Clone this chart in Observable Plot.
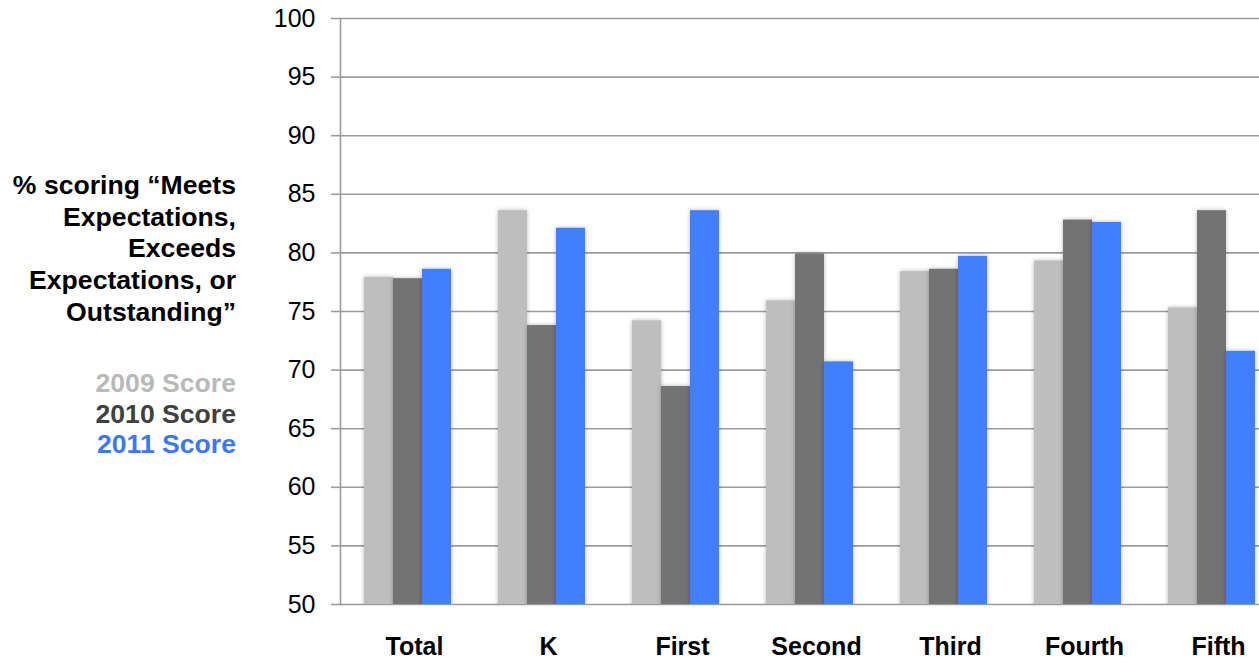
<!DOCTYPE html>
<html>
<head>
<meta charset="utf-8">
<script src="https://cdn.jsdelivr.net/npm/d3@7"></script>
<script src="https://cdn.jsdelivr.net/npm/@observablehq/plot@0.6"></script>
<style>
  html, body { margin: 0; padding: 0; background: #fff; }
  #wrap { position: relative; width: 1259px; height: 663px; overflow: hidden; font-family: "Liberation Sans", Arial, sans-serif; }
  #chart { position: absolute; left: 0; top: 0; }
  #title { position: absolute; right: calc(1259px - 236px); top: 170px; text-align: right; font-weight: bold; font-size: 26.6px; line-height: 31.7px; color: #000; white-space: nowrap; }
  #legend { position: absolute; right: calc(1259px - 236px); top: 368px; text-align: right; font-weight: bold; font-size: 26.6px; line-height: 30.7px; white-space: nowrap; }
  .bars rect { filter: drop-shadow(0px 0px 2px rgba(0,0,0,0.28)); }
</style>
</head>
<body>
<div id="wrap">
  <div id="chart"></div>
  <div id="title"></div>
  <div id="legend"></div>
</div>
<script>
const categories = ["Total", "K", "First", "Second", "Third", "Fourth", "Fifth"];
const years = ["2009 Score", "2010 Score", "2011 Score"];
const scores2009 = [77.9, 83.6, 74.2, 75.9, 78.4, 79.3, 75.3];
const scores2010 = [77.8, 73.8, 68.6, 79.9, 78.6, 82.8, 83.6];
const scores2011 = [78.6, 82.1, 83.6, 70.7, 79.7, 82.6, 71.6];
const yTicks = [50, 55, 60, 65, 70, 75, 80, 85, 90, 95, 100];
const titleLines = ["% scoring \u201cMeets", "Expectations,", "Exceeds", "Expectations, or", "Outstanding\u201d"];
const colors = ["#bebebe", "#737373", "#4080ff"];
const legendColors = ["#b9b9b9", "#404040", "#3a78f5"];

const series = [scores2009, scores2010, scores2011];
const data = [];
categories.forEach((c, i) => years.forEach((y, j) => data.push({category: c, year: y, value: series[j][i]})));

const plot = Plot.plot({
  width: 1259,
  height: 663,
  marginTop: 18,
  marginBottom: 59,
  marginLeft: 340,
  marginRight: 0,
  style: {overflow: "hidden", background: "white"},
  fx: {domain: categories, range: [340, 1278], padding: 0, axis: null},
  x: {domain: years, paddingInner: 0, paddingOuter: 0.758, axis: null},
  y: {domain: [50, 100], axis: null},
  color: {domain: years, range: colors},
  marks: [
    Plot.ruleY(yTicks, {stroke: "#9c9c9c", strokeWidth: 1.6}),
    Plot.barY(data, {fx: "category", x: "year", y: "value", fill: "year", clip: true, className: "bars"}),
    Plot.axisY(yTicks, {anchor: "left", tickSize: 9, tickPadding: 16, stroke: "#9c9c9c", strokeWidth: 1.6, fill: "#000", fontSize: 25, fontFamily: "Liberation Sans, Arial, sans-serif", label: null, facetAnchor: "left"}),
    Plot.frame({anchor: "left", stroke: "#9c9c9c", strokeWidth: 1.6, facetAnchor: "left"}),
    Plot.axisFx({anchor: "bottom", tickSize: 0, tickPadding: 33, dx: 7, fontSize: 25, fontWeight: "bold", fontFamily: "Liberation Sans, Arial, sans-serif", fill: "#000", label: null})
  ]
});
document.getElementById("chart").appendChild(plot);

document.getElementById("title").innerHTML = titleLines.map(t => `<div>${t}</div>`).join("");
document.getElementById("legend").innerHTML = years.map((y, i) => `<div style="color:${legendColors[i]}">${y}</div>`).join("");
</script>
</body>
</html>
